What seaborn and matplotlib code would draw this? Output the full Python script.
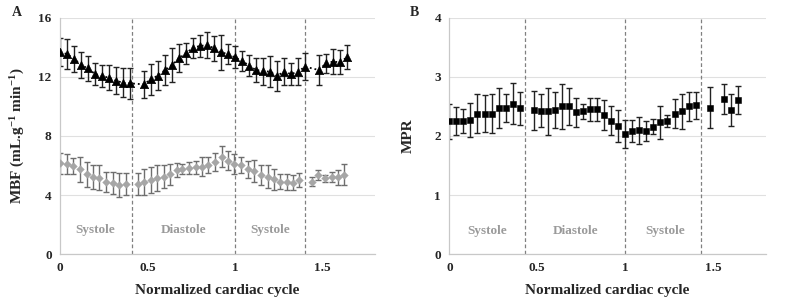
import numpy as np
import pandas as pd
import matplotlib
matplotlib.use("Agg")
import matplotlib.pyplot as plt
import seaborn as sns

# panel A - stress MBF (black triangles)
x_stress = [0, 0.04, 0.08, 0.12, 0.16, 0.20, 0.24, 0.28, 0.32, 0.36, 0.40,
            0.48, 0.52, 0.56, 0.60, 0.64, 0.68, 0.72, 0.76, 0.80, 0.84, 0.88,
            0.92, 0.96, 1.00, 1.04, 1.08, 1.12, 1.16, 1.20, 1.24, 1.28, 1.32,
            1.36, 1.40, 1.48, 1.52, 1.56, 1.60, 1.64]
mbf_stress = [13.67, 13.56, 13.22, 12.81, 12.59, 12.2, 12.07, 11.95, 11.75, 11.61, 11.57,
              11.5, 11.86, 12.09, 12.47, 12.81, 13.27, 13.6, 13.99, 14.1, 14.17, 13.95,
              13.67, 13.56, 13.33, 13.1, 12.77, 12.47, 12.4, 12.36, 12.07, 12.36, 12.2,
              12.36, 12.7, 12.47, 12.93, 13.04, 13.0, 13.33]
err_stress = [0.95, 1.0, 0.87, 0.9, 0.85, 0.73, 0.74, 0.85, 0.9, 1.0, 1.03,
              0.9, 1.05, 0.97, 1.0, 1.13, 0.96, 0.73, 0.67, 0.73, 0.85, 0.85,
              1.2, 0.65, 0.75, 0.66, 0.73, 0.8, 0.92, 1.07, 1.03, 0.92, 0.72,
              0.9, 0.9, 1.0, 0.63, 0.85, 0.8, 0.82]

# panel A - rest MBF (grey diamonds)
x_rest = [0, 0.038, 0.076, 0.114, 0.152, 0.19, 0.225, 0.263, 0.301, 0.337, 0.375,
          0.444, 0.482, 0.52, 0.554, 0.592, 0.629, 0.667, 0.699, 0.737, 0.775, 0.81,
          0.847, 0.886, 0.924, 0.958, 0.996, 1.034, 1.072, 1.11, 1.149, 1.187, 1.221,
          1.257, 1.295, 1.333, 1.367, 1.438, 1.476, 1.514, 1.553, 1.59, 1.625]
mbf_rest = [6.16, 6.1, 5.97, 5.74, 5.4, 5.2, 5.17, 4.9, 4.83, 4.68, 4.75,
            4.73, 4.88, 5.02, 5.15, 5.24, 5.4, 5.69, 5.76, 5.81, 5.88, 5.92,
            6.03, 6.26, 6.6, 6.33, 6.1, 6.03, 5.74, 5.63, 5.36, 5.24, 5.06,
            4.9, 4.9, 4.83, 5.02, 4.9, 5.36, 5.13, 5.2, 5.2, 5.36]
err_rest = [0.72, 0.65, 0.55, 0.86, 0.85, 0.81, 0.85, 0.68, 0.73, 0.81, 0.73,
            0.73, 0.85, 0.87, 0.87, 0.79, 0.71, 0.5, 0.34, 0.4, 0.45, 0.64,
            0.56, 0.62, 0.72, 0.64, 0.68, 0.54, 0.56, 0.75, 0.68, 0.79, 0.71,
            0.51, 0.54, 0.5, 0.45, 0.3, 0.36, 0.23, 0.33, 0.52, 0.71]

# panel B - MPR
x_mpr = [0, 0.04, 0.08, 0.12, 0.16, 0.20, 0.24, 0.28, 0.32, 0.36, 0.40,
         0.48, 0.52, 0.56, 0.60, 0.64, 0.68, 0.72, 0.76, 0.80, 0.84, 0.88,
         0.92, 0.96, 1.00, 1.04, 1.08, 1.12, 1.16, 1.20, 1.24, 1.28, 1.32,
         1.36, 1.40, 1.48, 1.56, 1.60, 1.64]
mpr = [2.25, 2.25, 2.25, 2.27, 2.38, 2.38, 2.38, 2.47, 2.47, 2.55, 2.47,
       2.44, 2.43, 2.42, 2.44, 2.50, 2.50, 2.40, 2.42, 2.45, 2.45, 2.36,
       2.26, 2.17, 2.03, 2.08, 2.10, 2.08, 2.16, 2.23, 2.25, 2.38, 2.42,
       2.50, 2.52, 2.48, 2.63, 2.44, 2.61]
err_mpr = [0.30, 0.24, 0.20, 0.29, 0.33, 0.32, 0.33, 0.34, 0.24, 0.35, 0.28,
           0.33, 0.28, 0.40, 0.30, 0.38, 0.32, 0.24, 0.13, 0.20, 0.20, 0.25,
           0.25, 0.27, 0.24, 0.19, 0.23, 0.17, 0.13, 0.28, 0.10, 0.24, 0.30,
           0.24, 0.23, 0.35, 0.25, 0.27, 0.23]

phase_a = [0.413, 1.0, 1.40]
phase_b = [0.43, 1.0, 1.43]
phase_names = ["Systole", "Diastole", "Systole"]
phase_x_a = [0.2, 0.705, 1.2]
phase_x_b = [0.213, 0.72, 1.225]

sns.set_style("whitegrid")
plt.rcParams["font.family"] = ["Liberation Serif", "DejaVu Serif"]
plt.rcParams["font.weight"] = "bold"
plt.rcParams["mathtext.fontset"] = "custom"
plt.rcParams["mathtext.rm"] = "Liberation Serif:bold"
plt.rcParams["mathtext.it"] = "Liberation Serif:bold"
plt.rcParams["mathtext.bf"] = "Liberation Serif:bold"

fig = plt.figure(figsize=(7.85, 3.08), dpi=100)
axA = fig.add_axes([0.0764, 0.1753, 0.4013, 0.7663])
axB = fig.add_axes([0.5724, 0.1753, 0.4034, 0.7663])

df_s = pd.DataFrame({"x": x_stress, "y": mbf_stress})
df_r = pd.DataFrame({"x": x_rest, "y": mbf_rest})
df_m = pd.DataFrame({"x": x_mpr, "y": mpr})


def style_ax(ax, yticks, ymax):
    ax.set_xlim(0, 1.8)
    ax.set_ylim(0, ymax)
    ax.set_xticks([0, 0.5, 1, 1.5])
    ax.set_xticklabels(["0", "0.5", "1", "1.5"])
    ax.set_yticks(yticks)
    ax.grid(axis="x", visible=False)
    ax.grid(axis="y", color="#e0e0e0", linewidth=0.8)
    for s in ["top", "right"]:
        ax.spines[s].set_visible(False)
    for s in ["left", "bottom"]:
        ax.spines[s].set_color("#c8c8c8")
        ax.spines[s].set_linewidth(0.9)
    ax.tick_params(length=0, labelsize=9.5, pad=6)
    for lab in ax.get_xticklabels() + ax.get_yticklabels():
        lab.set_fontweight("bold")
    ax.set_xlabel("Normalized cardiac cycle", fontsize=11, fontweight="bold", labelpad=7)


# ---- panel A
style_ax(axA, [0, 4, 8, 12, 16], 16)
for v in phase_a:
    axA.axvline(v, color="#808080", linestyle=(0, (3, 2)), linewidth=0.9, zorder=1)
axA.errorbar(x_rest, mbf_rest, yerr=err_rest, fmt="none", ecolor="#6e6e6e",
             elinewidth=1.0, capsize=2, capthick=1.0, zorder=2)
sns.scatterplot(data=df_r, x="x", y="y", ax=axA, marker="D", s=15, color="#a6a6a6",
                edgecolor="#a6a6a6", zorder=3)
sns.lineplot(data=df_s, x="x", y="y", ax=axA, color="black", linestyle=":",
             linewidth=1.3, zorder=2)
axA.errorbar(x_stress, mbf_stress, yerr=err_stress, fmt="none", ecolor="#222222",
             elinewidth=1.0, capsize=2, capthick=1.0, zorder=2)
sns.scatterplot(data=df_s, x="x", y="y", ax=axA, marker="^", s=36, color="black",
                edgecolor="black", zorder=3)
axA.set_ylabel("MBF (mL.g$^{-1}$ min$^{-1}$)", fontsize=11, fontweight="bold", labelpad=8)
axA.set_xlabel("Normalized cardiac cycle", fontsize=11, fontweight="bold", labelpad=7)
for name, px in zip(phase_names, phase_x_a):
    axA.text(px, 1.6, name, color="#9a9a9a", fontsize=9.5, fontweight="bold",
             ha="center", va="center")

# ---- panel B
style_ax(axB, [0, 1, 2, 3, 4], 4)
for v in phase_b:
    axB.axvline(v, color="#808080", linestyle=(0, (3, 2)), linewidth=0.9, zorder=1)
axB.errorbar(x_mpr, mpr, yerr=err_mpr, fmt="none", ecolor="#222222",
             elinewidth=1.0, capsize=2, capthick=1.0, zorder=2)
sns.scatterplot(data=df_m, x="x", y="y", ax=axB, marker="s", s=24, color="black",
                edgecolor="black", zorder=3)
axB.set_ylabel("MPR", fontsize=11, fontweight="bold", labelpad=14)
axB.set_xlabel("Normalized cardiac cycle", fontsize=11, fontweight="bold", labelpad=7)
for name, px in zip(phase_names, phase_x_b):
    axB.text(px, 0.39, name, color="#9a9a9a", fontsize=9.5, fontweight="bold",
             ha="center", va="center")

fig.text(12 / 785, 1 - 13 / 308, "A", fontsize=10, fontweight="bold", va="center")
fig.text(410 / 785, 1 - 13 / 308, "B", fontsize=10, fontweight="bold", va="center")

fig.savefig("out.png", dpi=100)
